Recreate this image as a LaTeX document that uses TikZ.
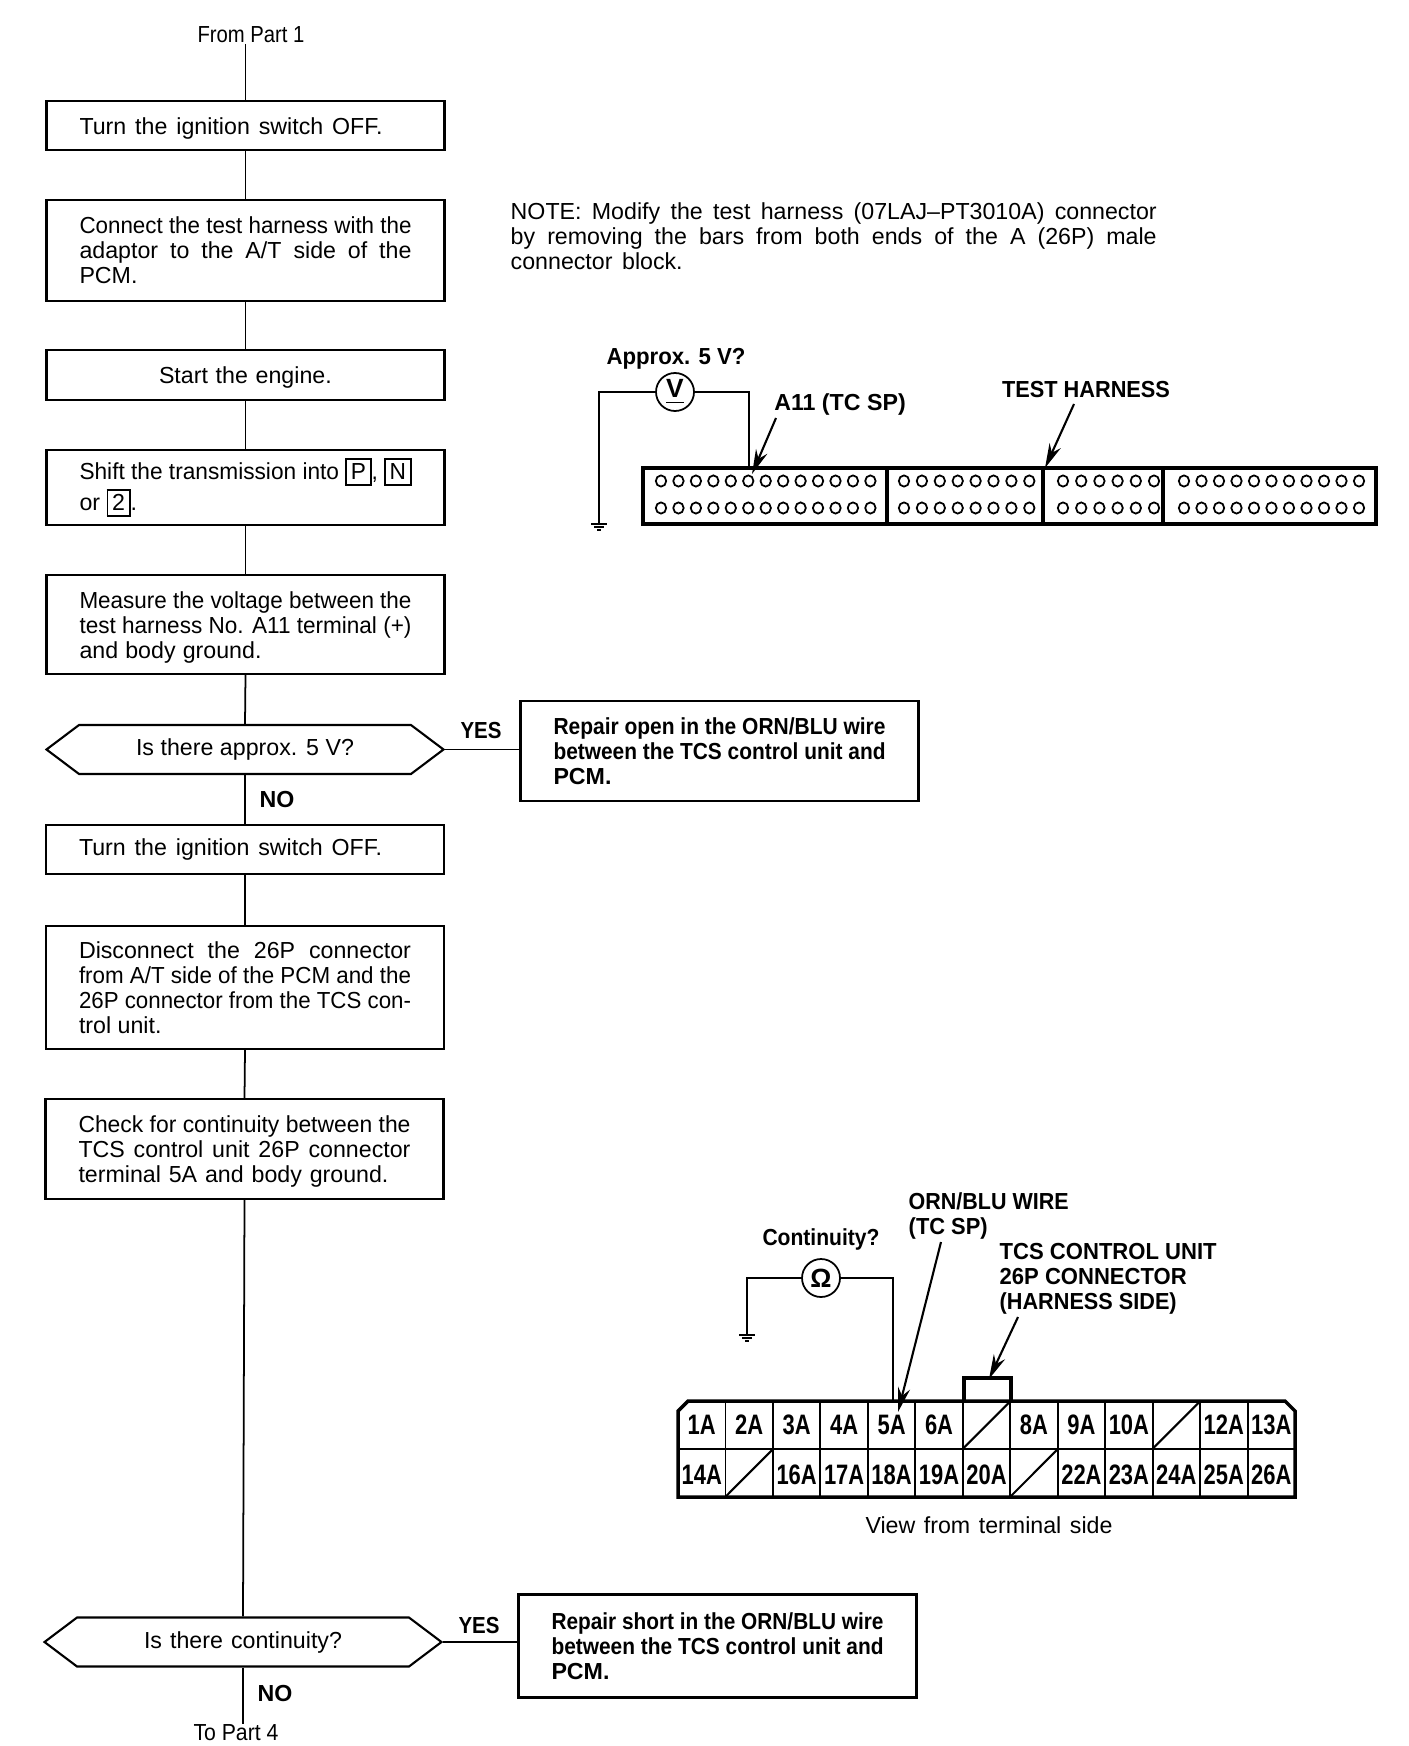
\documentclass[tikz,border=0pt]{standalone}
\usepackage{fontspec}
\usepackage{graphicx}
\setmainfont{Liberation Sans}
\newfontfamily\cellfont[FakeStretch=0.78]{Liberation Sans}
\usetikzlibrary{
  arrows.meta,
  shapes.symbols,
  positioning
}
\newsavebox{\linefit}
\newcommand{\jline}[2][\hsize]{%
  \sbox{\linefit}{#2}%
  \ifdim\wd\linefit>#1\relax
    \resizebox{#1}{\height}{\usebox{\linefit}}%
  \else
    \makebox[#1][s]{#2}%
  \fi}
\newcommand{\nudge}{\leavevmode\rule{0pt}{6.4pt}}
\newcommand{\gearkey}[1]{{\fboxsep=1.1pt\fboxrule=0.5pt\fbox{\vphantom{P}#1}}}
\newcommand{\gndmark}[1]{
  \draw[wire] (#1) ++(-8,0) -- ++(16,0);
  \draw[wire] (#1) ++(-5,3) -- ++(10,0);
  \draw[wire] (#1) ++(-2,6) -- ++(4,0);
}
\tikzset{
  body text/.style={font=\fontsize{6.6}{7.1}\selectfont},
  flow box/.style={
    draw, rectangle, line width=0.6pt,
    text width=3.32cm, inner xsep=0.33cm, inner ysep=0pt,
    align=flush left, body text
  },
  result box/.style={
    flow box, font=\fontsize{6.6}{7.1}\selectfont\bfseries
  },
  decision/.style={
    draw, signal, signal to=east and west, signal pointer angle=74,
    line width=0.6pt, minimum width=3.97cm, minimum height=0.49cm,
    inner sep=0pt, body text
  },
  link/.style={line width=0.5pt},
  wire/.style={line width=0.5pt},
  callout/.style={-{Stealth[length=7pt,width=3.5pt]}, line width=0.6pt},
  tag/.style={font=\fontsize{6.6}{7.1}\selectfont\bfseries, inner sep=0pt},
  meter/.style={
    draw, circle, line width=0.5pt, minimum size=0.38cm, inner sep=0pt,
    font=\fontsize{7.5}{7.5}\selectfont\bfseries
  },
  pin cell/.style={
    minimum width=0.4746cm, minimum height=0.475cm, inner sep=0pt,
    font=\cellfont\fontsize{8}{8}\selectfont\bfseries
  },
}
\begin{document}
\begin{tikzpicture}[x=0.1mm, y=-0.1mm]
  \useasboundingbox (0,0) rectangle (1408,1746);

  % Flow, left column
  \node[body text, inner sep=0pt] (frompart) at (251,35) {\jline[1.07cm]{From Part 1}};
  \node[flow box, minimum height=0.49cm] (off1) at (245.5,125.5)
    {\nudge\jline[3.03cm]{Turn the ignition switch OFF.}};
  \node[flow box, minimum height=1.01cm] (connect) at (245.5,250.5)
    {\jline{Connect the test harness with the}\\
     \jline{adaptor to the A/T side of the}\\ PCM.};
  \node[flow box, minimum height=0.5cm, align=center] (start) at (245.5,375)
    {\nudge\jline[1.73cm]{Start the engine.}};
  \node[flow box, minimum height=0.75cm] (shift) at (245.5,487.5)
    {\jline{Shift the transmission into \gearkey{P}, \gearkey{N}}\\
     or \gearkey{2}.};
  \node[flow box, minimum height=0.99cm] (measure) at (245.5,624.5)
    {\nudge\jline{Measure the voltage between the}\\
     \jline{test harness No. A11 terminal (+)}\\
     \jline[1.82cm]{and body ground.}};
  \node[decision] (approx) at (245,749.5) {\jline[2.18cm]{Is there approx. 5 V?}};
  \node[flow box, minimum height=0.49cm] (off2) at (245,849.5)
    {\jline[3.03cm]{Turn the ignition switch OFF.}};
  \node[flow box, minimum height=1.23cm] (disconnect) at (245,987.5)
    {\jline{Disconnect the 26P connector}\\
     \jline{from A/T side of the PCM and the}\\
     \jline{26P connector from the TCS con-}\\ trol unit.};
  \node[flow box, minimum height=1cm] (check) at (244.5,1149)
    {\nudge\jline{Check for continuity between the}\\
     \jline{TCS control unit 26P connector}\\
     \jline[3.1cm]{terminal 5A and body ground.}};
  \node[decision] (cont) at (243,1642) {\jline[1.98cm]{Is there continuity?}};
  \node[body text, inner sep=0pt] (topart) at (236,1733) {\jline[0.85cm]{To Part 4}};

  \draw[link] (frompart.south -| off1.north) -- (off1.north);
  \foreach \a/\b in {off1/connect, connect/start, start/shift, shift/measure,
    measure/approx, approx/off2, off2/disconnect, disconnect/check, check/cont}
    \draw[link] (\a.south) -- (\b.north);
  \draw[link] (cont.south) -- (cont.south |- topart.north);

  % Repair boxes
  \node[result box, minimum height=1cm] (repair1) at (719.5,751)
    {\jline{Repair open in the ORN/BLU wire}\\
     \jline{between the TCS control unit and}\\ PCM.};
  \node[result box, minimum height=1.03cm] (repair2) at (717.5,1646)
    {\jline{Repair short in the ORN/BLU wire}\\
     \jline{between the TCS control unit and}\\ PCM.};
  \draw[link] (approx.east) -- (approx.east -| repair1.west);
  \draw[link] (cont.east) -- (cont.east -| repair2.west);
  \node[tag] (yes1) at (481,731) {\jline[0.41cm]{YES}};
  \node[tag] (no1) at (277,800) {NO};
  \node[tag] (yes2) at (479,1625) {\jline[0.41cm]{YES}};
  \node[tag] (no2) at (275,1693) {NO};

  % Note
  \node[body text, anchor=west, text width=6.46cm, inner sep=0pt, align=flush left] (note) at (510,236)
    {\jline{NOTE: Modify the test harness (07LAJ--PT3010A) connector}\\
     \jline{by removing the bars from both ends of the A (26P) male}\\
     \jline[1.72cm]{connector block.}};

  % Test harness connector
  \draw[line width=1pt] (643,468) rectangle (1376,524);
  \foreach \xd in {887,1043,1163}
    \draw[line width=0.9pt] (\xd,468) -- (\xd,524);
  \foreach \xa/\n/\pitch in {661/12/17.45, 904/7/17.9, 1063/5/18.2, 1184/10/17.5}
    \foreach \yr in {481,508}
      \foreach \k in {0,...,\n}
        \draw[line width=0.5pt] ({\xa+\k*\pitch},\yr) circle [x radius=0.052cm, y radius=0.056cm];

  \node[meter] (voltm) at (675,392) {\underline{V}};
  \node[tag] (approxlbl) at (676,359) {\jline[1.39cm]{Approx. 5 V?}};
  \coordinate (vgnd) at (599,524);
  \coordinate (vpin) at (749,468);
  \draw[wire] (voltm.west) -| (vgnd);
  \draw[wire] (voltm.east) -| (vpin);
  \gndmark{vgnd}
  \node[tag] (a11lbl) at (840,405) {\jline[1.315cm]{A11 (TC SP)}};
  \node[tag] (harnesslbl) at (1086,390) {\jline[1.68cm]{TEST HARNESS}};
  \coordinate (a11end) at (752,474);
  \coordinate (harnessend) at (1045,468);
  \draw[callout] (776,418) -- (a11end);
  \draw[callout] (1074,404) -- (harnessend);

  % Control unit connector
  \draw[line width=1pt] (688,1401) -- (1285,1401) -- (1295,1411) -- (1295,1497)
    -- (678,1497) -- (678,1411) -- cycle;
  \draw[line width=1pt] (963.8,1401) -- (963.8,1378) -- (1011.2,1378) -- (1011.2,1401);
  \draw[line width=0.8pt] (678,1449) -- (1295,1449);
  \foreach \k in {1,...,12}
    \draw[line width=0.55pt] ({678+\k*47.46},1401) -- ({678+\k*47.46},1497);

  \foreach \lbl [count=\i] in {1A,2A,3A,4A,5A,6A,,8A,9A,10A,,12A,13A}
    \node[pin cell] (top\i) at ({678+(\i-0.5)*47.46},1425) {\lbl};
  \foreach \lbl [count=\i] in {14A,,16A,17A,18A,19A,20A,,22A,23A,24A,25A,26A}
    \node[pin cell] (bot\i) at ({678+(\i-0.5)*47.46},1475) {\lbl};
  \foreach \c in {top7, top11}
    \draw[line width=0.6pt] (\c.south west) -- (\c.north east);
  \foreach \c in {bot2, bot8}
    \draw[line width=0.6pt] ([yshift=0.02cm]\c.south west) -- ([yshift=0.02cm]\c.north east);

  \node[meter] (ohmm) at (821,1278) {Ω};
  \node[tag] (contlbl) at (821,1239) {\jline[1.17cm]{Continuity?}};
  \coordinate (ogndtop) at (747,1335);
  \coordinate (opin) at (893,1401);
  \draw[wire] (ohmm.west) -| (ogndtop);
  \draw[wire] (ohmm.east) -| (opin);
  \gndmark{ogndtop}
  \node[tag, anchor=west, align=flush left, font=\fontsize{6.6}{7}\selectfont\bfseries] (ornlbl) at (908,1216)
    {\jline[1.6cm]{ORN/BLU WIRE}\\\jline[0.79cm]{(TC SP)}};
  \node[tag, anchor=west, align=flush left, font=\fontsize{6.6}{7.1}\selectfont\bfseries] (tcslbl) at (999,1279)
    {\jline[2.17cm]{TCS CONTROL UNIT}\\\jline[1.87cm]{26P CONNECTOR}\\\jline[1.77cm]{(HARNESS SIDE)}};
  \draw[callout] (941,1242) -- (898,1412);
  \draw[callout] (1018,1317) -- (989,1379);
  \node[body text, inner sep=0pt] (viewlbl) at (989,1525) {\jline[2.47cm]{View from terminal side}};

\end{tikzpicture}
\end{document}
